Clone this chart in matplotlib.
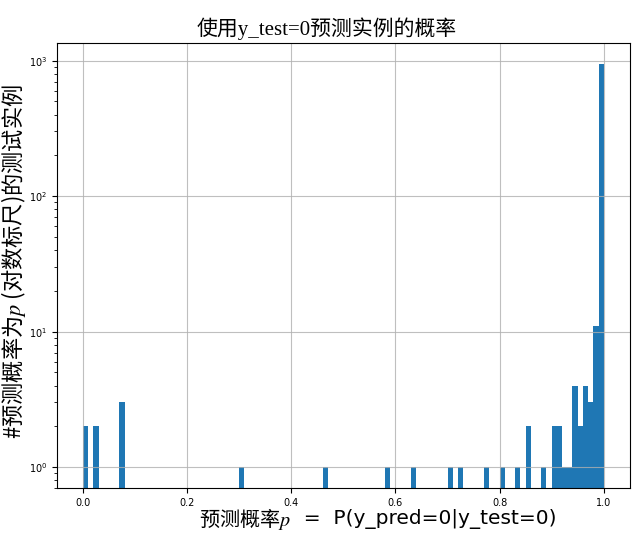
import numpy as np
import matplotlib
matplotlib.use("Agg")
import matplotlib.pyplot as plt

plt.rcParams['mathtext.fontset'] = 'stix'

# histogram of predicted probabilities, 100 bins of width 0.01 on [0, 1]
bin_starts = [0.00, 0.02, 0.07, 0.30, 0.46, 0.58, 0.63, 0.70, 0.72, 0.77,
              0.80, 0.83, 0.85, 0.88, 0.90, 0.91, 0.92, 0.93, 0.94, 0.95,
              0.96, 0.97, 0.98, 0.99]
counts = [2, 2, 3, 1, 1, 1, 1, 1, 1, 1,
          1, 1, 2, 1, 2, 2, 1, 1, 4, 2,
          4, 3, 11, 940]
edges = np.linspace(0, 1, 101)
centers = np.array(bin_starts) + 0.005

title = "使用y_test=0预测实例的概率"
xlabel_a = "预测概率$p$"
xlabel_b = "  =  P(y_pred=0|y_test=0)"
ylabel = "#预测概率为$p$ (对数标尺)的测试实例"

fig = plt.figure(figsize=(6.4, 5.37), dpi=100)
ax = fig.add_axes([0.089, 0.091, 0.895, 0.829])
ax.hist(centers, bins=edges, weights=counts, color='#1f77b4', log=True)
ax.set_xlim(-0.05, 1.05)
ax.set_ylim(0.7, 1350)
ax.grid(True, color='#b0b0b0', linewidth=0.8, alpha=0.8)
ax.tick_params(labelsize=7)

ax.set_title(title, family=['Liberation Serif', 'Noto Sans CJK SC'], fontsize=15, pad=6, x=0.47)

ta = ax.text(0.248, -0.041, xlabel_a, transform=ax.transAxes, family='Noto Sans CJK SC',
             fontsize=14.5, ha='left', va='top')
ax.annotate(xlabel_b, xy=(1, 0.12), xycoords=ta, family='DejaVu Sans', fontsize=14.5,
            ha='left', va='bottom')

ax.set_ylabel(ylabel, family='Noto Sans CJK SC', fontsize=16)
ax.yaxis.set_label_coords(-0.05, 0.51)

fig.savefig("out.png", dpi=100)
